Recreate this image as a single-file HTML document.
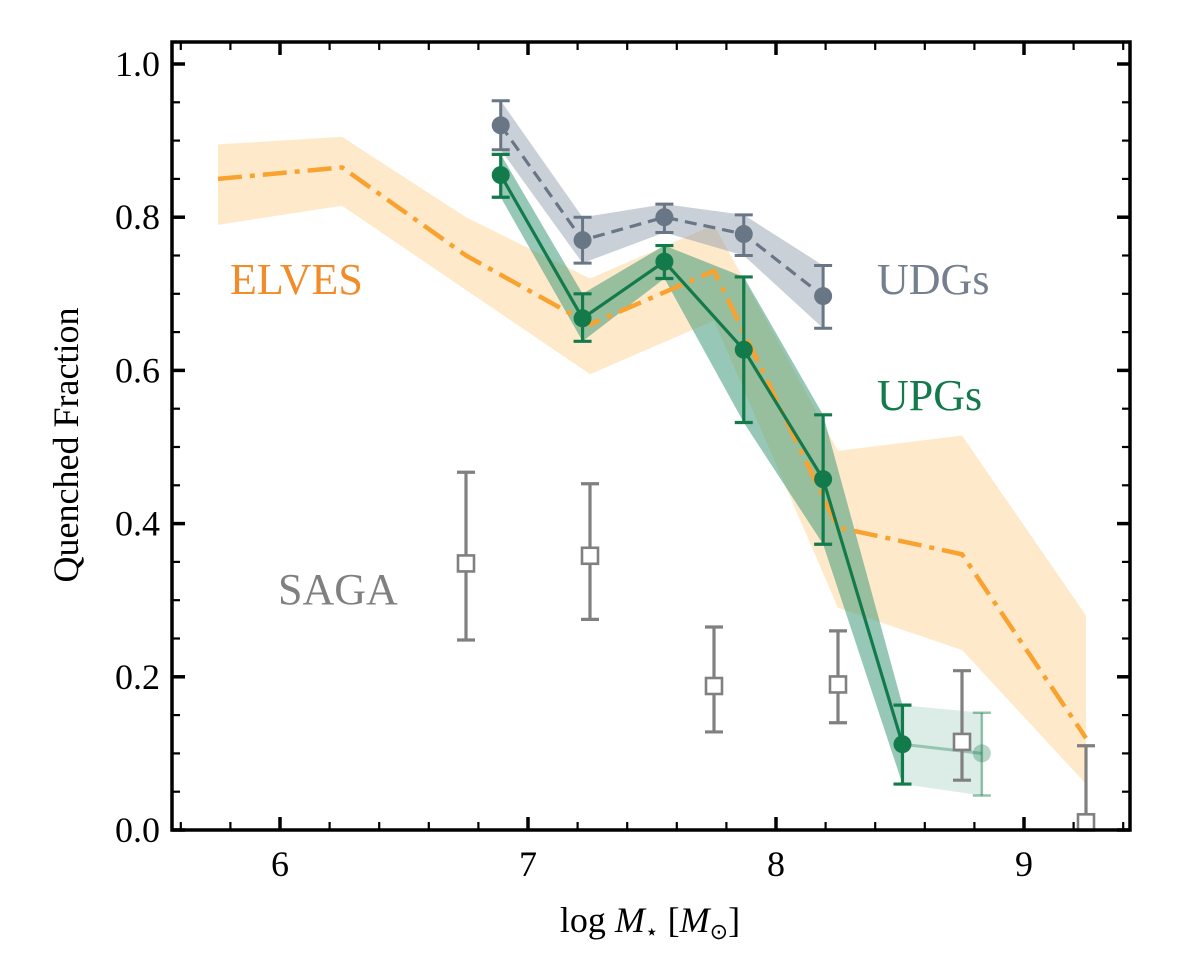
<!DOCTYPE html>
<html><head><meta charset="utf-8"><style>
html,body{margin:0;padding:0;background:#fff}
svg{display:block}
text{font-family:"Liberation Serif",serif}
</style></head><body>
<svg id="chart" width="1200" height="976" viewBox="0 0 1200 976">
<g id="plot"></g>
<text x="650" y="932" font-size="36" text-anchor="middle">log  <tspan font-style="italic">M</tspan><tspan font-size="22" dy="7">⋆</tspan><tspan dy="-7"> [</tspan><tspan font-style="italic">M</tspan><tspan font-size="22" dy="7">⊙</tspan><tspan dy="-7">]</tspan></text>
<text x="78" y="445" font-size="36" text-anchor="middle" transform="rotate(-90 78 445)">Quenched Fraction</text>
<text x="230" y="294" font-size="44" fill="#f28c2a">ELVES</text>
<text x="877" y="294" font-size="44" fill="#75808f">UDGs</text>
<text x="877" y="410" font-size="44" fill="#137a4c">UPGs</text>
<text x="278" y="604" font-size="44" fill="#808080">SAGA</text>
</svg>
<script>
const elvesX=[5.75,6.25,6.75,7.25,7.75,8.25,8.75,9.25];
const elvesY=[0.85,0.865,0.75,0.66,0.73,0.395,0.36,0.12];
const elvesHi=[0.895,0.905,0.80,0.72,0.79,0.495,0.515,0.28];
const elvesLo=[0.79,0.815,0.705,0.595,0.665,0.29,0.235,0.06];
const udgX=[6.89,7.22,7.55,7.87,8.19];
const udgY=[0.92,0.77,0.80,0.778,0.697];
const udgHi=[0.952,0.80,0.817,0.803,0.737];
const udgLo=[0.888,0.74,0.78,0.75,0.655];
const upgX=[6.89,7.22,7.55,7.87,8.19,8.51];
const upgY=[0.855,0.668,0.742,0.627,0.458,0.112];
const upgHi=[0.882,0.70,0.763,0.722,0.542,0.163];
const upgLo=[0.826,0.638,0.72,0.532,0.373,0.06];
const upgFaintX=[8.51,8.83];
const upgFaintY=[0.112,0.10];
const upgFaintHi=[0.163,0.153];
const upgFaintLo=[0.06,0.045];
const sagaX=[6.75,7.25,7.75,8.25,8.75,9.25];
const sagaY=[0.348,0.358,0.188,0.19,0.115,0.01];
const sagaHi=[0.467,0.452,0.265,0.26,0.208,0.11];
const sagaLo=[0.248,0.275,0.128,0.14,0.065,0.0];
const xTicks=[6,7,8,9];
const yTicks=[0.0,0.2,0.4,0.6,0.8,1.0];

const L=172,R=1130,T=42,B=830;
const sx=v=>280+(v-6)*248;
const sy=v=>830-v*766;
const NS='http://www.w3.org/2000/svg';
const g=document.getElementById('plot');
function mk(tag,attrs,parent){const e=document.createElementNS(NS,tag);for(const k in attrs)e.setAttribute(k,attrs[k]);(parent||g).appendChild(e);return e;}
function pts(xs,ys){return xs.map((x,i)=>sx(x)+','+sy(ys[i])).join(' ');}
function band(xs,hi,lo,fill,op,name){
  const p=xs.map((x,i)=>sx(x)+','+sy(hi[i])).concat(xs.map((x,i)=>sx(x)+','+sy(lo[i])).reverse()).join(' ');
  const e=mk('polygon',{points:p,fill:fill,'fill-opacity':op});
  
  
}
function errbars(xs,hi,lo,col,w,name,op){
  xs.forEach((x,i)=>{
    const gg=mk('g',{stroke:col,'stroke-width':w,'stroke-opacity':op||1});
    
    
    mk('line',{x1:sx(x),x2:sx(x),y1:sy(hi[i]),y2:sy(lo[i])},gg);
    mk('line',{x1:sx(x)-9,x2:sx(x)+9,y1:sy(hi[i]),y2:sy(hi[i])},gg);
    mk('line',{x1:sx(x)-9,x2:sx(x)+9,y1:sy(lo[i]),y2:sy(lo[i])},gg);
  });
}
band(elvesX,elvesHi,elvesLo,'#fdd9a0',0.55,'elves-band');
band(udgX,udgHi,udgLo,'#8a96a8',0.45,'udg-band');
band(upgX,upgHi,upgLo,'#2f9270',0.5,'upg-band');
band(upgFaintX,upgFaintHi,upgFaintLo,'#2f9270',0.17,'upg-faint-band');
let e=mk('polyline',{points:pts(elvesX,elvesY),fill:'none',stroke:'#f9a230','stroke-width':4.5,'stroke-dasharray':'24,8,5,8'});


e=mk('polyline',{points:pts(udgX,udgY),fill:'none',stroke:'#687686','stroke-width':3.2,'stroke-dasharray':'12,7'});


errbars(udgX,udgHi,udgLo,'#687686',3,'udg-errbar');
udgX.forEach((x,i)=>{const c=mk('circle',{cx:sx(x),cy:sy(udgY[i]),r:9,fill:'#687686'});

});
e=mk('polyline',{points:pts(upgFaintX,upgFaintY),fill:'none',stroke:'#137a4c','stroke-opacity':0.35,'stroke-width':3});


errbars(upgFaintX.slice(1),upgFaintHi.slice(1),upgFaintLo.slice(1),'#137a4c',2.5,'upg-faint-errbar',0.45);
e=mk('circle',{cx:sx(upgFaintX[1]),cy:sy(upgFaintY[1]),r:9,fill:'#137a4c','fill-opacity':0.3});


e=mk('polyline',{points:pts(upgX,upgY),fill:'none',stroke:'#137a4c','stroke-width':3.2});


errbars(upgX,upgHi,upgLo,'#137a4c',3.2,'upg-errbar');
upgX.forEach((x,i)=>{const c=mk('circle',{cx:sx(x),cy:sy(upgY[i]),r:9,fill:'#137a4c'});

});
errbars(sagaX,sagaHi,sagaLo,'#808080',3.2,'saga-errbar');
sagaX.forEach((x,i)=>{const c=mk('rect',{x:sx(x)-8,y:sy(sagaY[i])-8,width:16,height:16,fill:'#fff',stroke:'#808080','stroke-width':2.6});

});
e=mk('rect',{x:L,y:T,width:R-L,height:B-T,fill:'none',stroke:'#000','stroke-width':3.5});


const tg=mk('g',{stroke:'#000'});


for(let v=5.6;v<=9.41;v+=0.2){const x=sx(Math.round(v*10)/10);const maj=Math.abs(v-Math.round(v))<0.01;
  const len=maj?13:8,w=maj?3.5:2.2;
  mk('line',{x1:x,x2:x,y1:B,y2:B-len,'stroke-width':w},tg);
  mk('line',{x1:x,x2:x,y1:T,y2:T+len,'stroke-width':w},tg);}
for(let i=0;i<=20;i++){const v=i*0.05;const y=sy(v);const maj=i%4===0;
  const len=maj?13:8,w=maj?3.5:2.2;
  mk('line',{x1:L,x2:L+len,y1:y,y2:y,'stroke-width':w},tg);
  mk('line',{x1:R,x2:R-len,y1:y,y2:y,'stroke-width':w},tg);}
xTicks.forEach(v=>{const t=mk('text',{x:sx(v),y:876,'font-size':36,'text-anchor':'middle',fill:'#000'});t.textContent=v;

});
yTicks.forEach(v=>{const t=mk('text',{x:160,y:sy(v)+12,'font-size':36,'text-anchor':'end',fill:'#000'});t.textContent=v.toFixed(1);

});
</script>
</body></html>
